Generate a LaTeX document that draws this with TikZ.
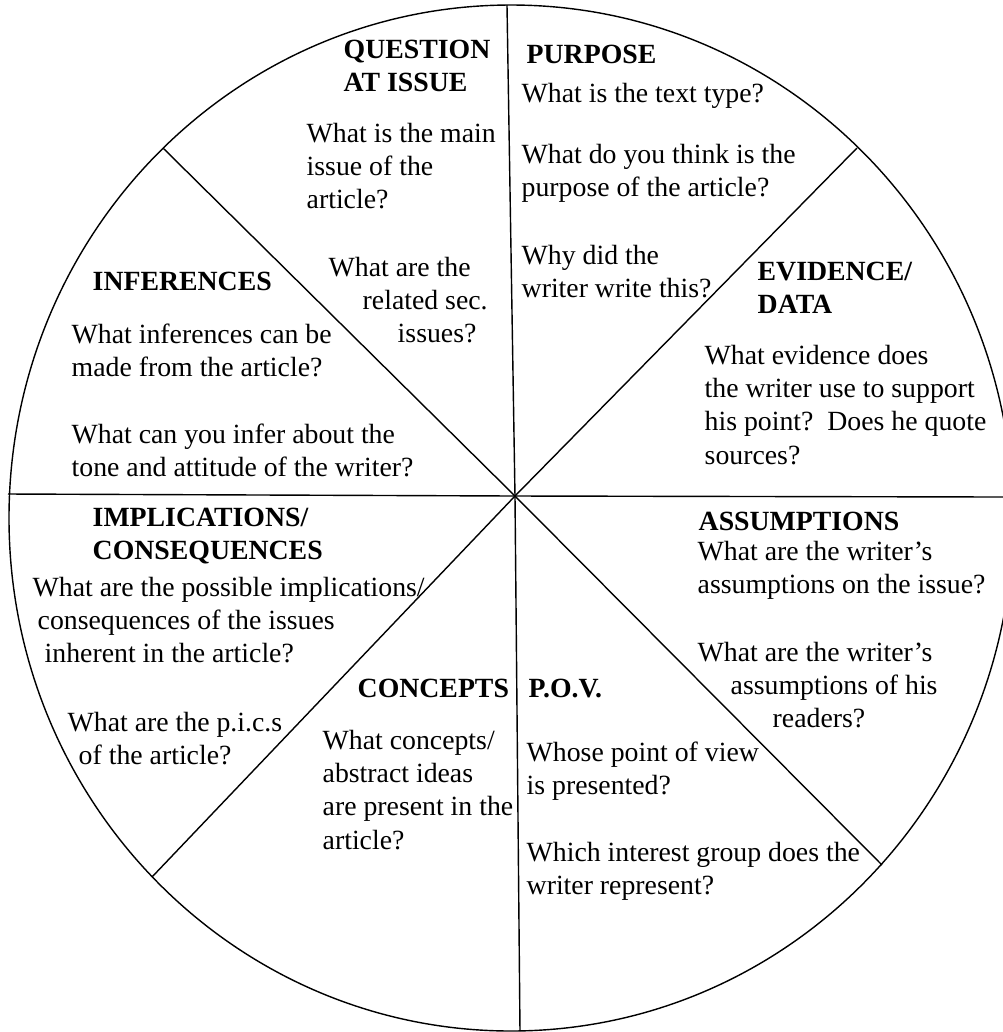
\documentclass[tikz,border=0pt]{standalone}
\usepackage{fontspec}
\setmainfont{Liberation Serif}

\begin{document}
\begin{tikzpicture}[x=0.01cm, y=-0.01cm,
    wheeltext/.style={inner sep=0pt, anchor=north west, yshift=7pt, align=left,
      execute at begin node={\rule{0pt}{7pt}}},
    heading/.style={wheeltext, font=\fontsize{7.9}{9.45}\selectfont\bfseries},
    prompt/.style={wheeltext, font=\fontsize{7.9}{9.45}\selectfont}]

  \useasboundingbox (0,0) rectangle (1003,1032);

  % Outer wheel
  \draw (511,518) ellipse [x radius=502, y radius=513];

  % Hub and rim points of the eight spokes
  \coordinate (Hub) at (515,496);
  \coordinate (Rim-N)  at (507,5);
  \coordinate (Rim-NE) at (857,148);
  \coordinate (Rim-E)  at (1003,497);
  \coordinate (Rim-SE) at (882,865);
  \coordinate (Rim-S)  at (520,1031);
  \coordinate (Rim-SW) at (152,877);
  \coordinate (Rim-W)  at (8,494);
  \coordinate (Rim-NW) at (163,148);
  \foreach \r in {N,NE,E,SE,S,SW,W,NW} {
    \draw (Hub) -- (Rim-\r);
  }

  % Question at issue
  \node[heading] (QAI) at (343,64) {QUESTION\\AT ISSUE};
  \node[prompt] (QAI-1) at (306,147) {What is the main\\issue of the\\article?};
  \node[prompt] (QAI-2) at (328,281) {What are the\\\hspace{0.34cm}related sec.\\\hspace{0.69cm}issues?};

  % Purpose
  \node[heading] (PUR) at (526,63) {PURPOSE};
  \node[prompt] (PUR-1) at (521,102) {What is the text type?};
  \node[prompt] (PUR-2) at (521,168) {What do you think is the\\purpose of the article?};
  \node[prompt] (PUR-3) at (521,269) {Why did the\\writer write this?};

  % Evidence / data
  \node[heading] (EVD) at (757,286) {EVIDENCE/\\DATA};
  \node[prompt] (EVD-1) at (704,369) {What evidence does\\the writer use to support\\his point?\ \ Does he quote\\sources?};

  % Assumptions
  \node[heading] (ASM) at (698,530) {ASSUMPTIONS};
  \node[prompt] (ASM-1) at (697,565) {What are the writer’s\\assumptions on the issue?};
  \node[prompt] (ASM-2) at (697,666) {What are the writer’s\\\hspace{0.33cm}assumptions of his\\\hspace{0.75cm}readers?};

  % Point of view
  \node[heading] (POV) at (528,697) {P.O.V.};
  \node[prompt] (POV-1) at (526,766) {Whose point of view\\is presented?};
  \node[prompt] (POV-2) at (526,866) {Which interest group does the\\writer represent?};

  % Concepts
  \node[heading] (CON) at (357,697) {CONCEPTS};
  \node[prompt] (CON-1) at (322,754) {What concepts/\\abstract ideas\\are present in the\\article?};

  % Implications / consequences
  \node[heading] (IMP) at (92,532) {IMPLICATIONS/\\CONSEQUENCES};
  \node[prompt] (IMP-1) at (32,601) {What are the possible implications/\\\hspace{0.05cm}consequences of the issues\\\hspace{0.12cm}inherent in the article?};
  \node[prompt] (IMP-2) at (67,736) {What are the p.i.c.s\\\hspace{0.11cm}of the article?};

  % Inferences
  \node[heading] (INF) at (92,290) {INFERENCES};
  \node[prompt] (INF-1) at (71,348) {What inferences can be\\made from the article?};
  \node[prompt] (INF-2) at (71,448) {What can you infer about the\\tone and attitude of the writer?};

\end{tikzpicture}
\end{document}
